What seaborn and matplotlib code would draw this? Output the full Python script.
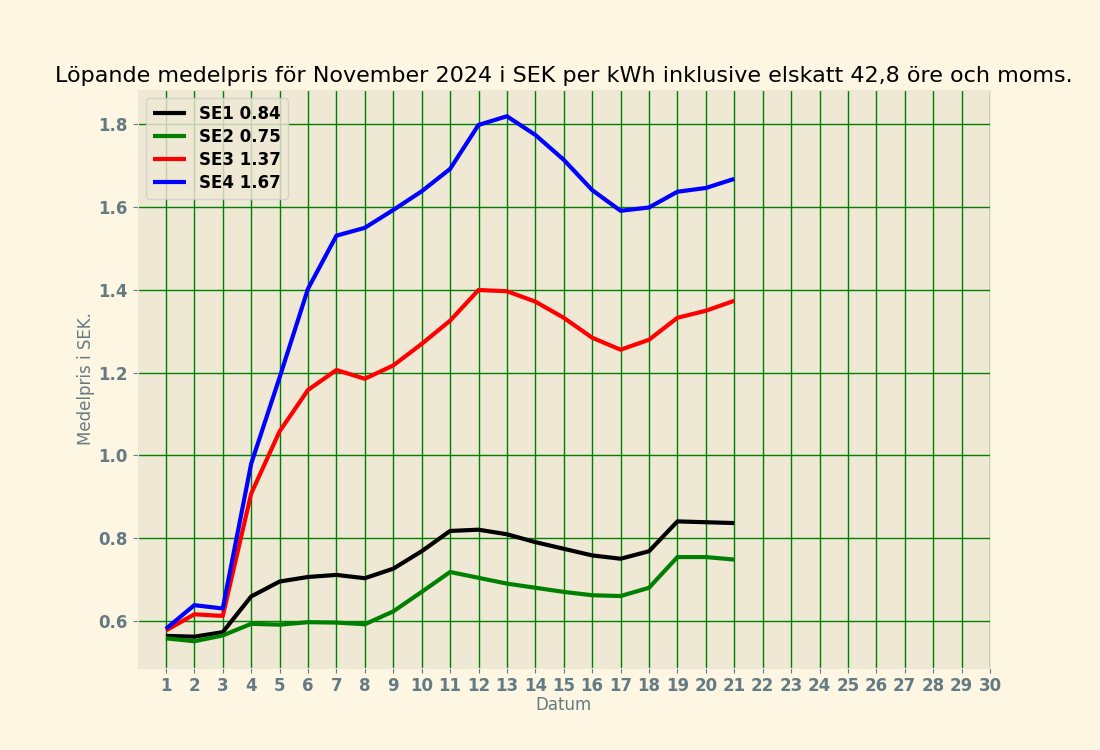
import matplotlib
matplotlib.use("Agg")
import matplotlib.pyplot as plt
import seaborn as sns
import pandas as pd

days = list(range(1, 22))
se1 = [0.565, 0.563, 0.574, 0.660, 0.696, 0.707, 0.712, 0.704, 0.727, 0.769, 0.818,
       0.821, 0.810, 0.791, 0.775, 0.759, 0.751, 0.769, 0.841, 0.839, 0.837]
se2 = [0.559, 0.552, 0.566, 0.594, 0.592, 0.598, 0.597, 0.593, 0.624, 0.671, 0.719,
       0.705, 0.691, 0.681, 0.671, 0.663, 0.661, 0.681, 0.755, 0.755, 0.749]
se3 = [0.578, 0.617, 0.613, 0.908, 1.058, 1.158, 1.206, 1.185, 1.217, 1.269, 1.325,
       1.399, 1.396, 1.371, 1.332, 1.284, 1.255, 1.279, 1.332, 1.349, 1.373]
se4 = [0.582, 0.639, 0.631, 0.980, 1.188, 1.402, 1.530, 1.549, 1.592, 1.637, 1.691,
       1.797, 1.818, 1.773, 1.713, 1.640, 1.590, 1.598, 1.636, 1.645, 1.667]
labels = ["SE1 0.84", "SE2 0.75", "SE3 1.37", "SE4 1.67"]
colors = ["black", "green", "red", "blue"]
xticks = list(range(1, 31))

plt.style.use("Solarize_Light2")
df = pd.concat([
    pd.DataFrame({"Datum": days, "Pris": vals, "Area": lab})
    for vals, lab in zip([se1, se2, se3, se4], labels)
])

fig, ax = plt.subplots(figsize=(11, 7.5), dpi=100)
sns.lineplot(data=df, x="Datum", y="Pris", hue="Area", palette=colors,
             linewidth=3, ax=ax)
ax.set_xlim(0, 30)
ax.set_xticks(xticks)
ax.grid(True, color="green", linewidth=1)
ax.set_axisbelow(True)
for lab in ax.get_xticklabels() + ax.get_yticklabels():
    lab.set_fontweight("bold")
    lab.set_fontsize(12)
ax.set_xlabel("Datum", fontsize=12, labelpad=0.5)
ax.set_ylabel("Medelpris i SEK.", fontsize=12, labelpad=2.5)
ax.set_title("Löpande medelpris för November 2024 i SEK per kWh inklusive elskatt 42,8 öre och moms.",
             fontsize=16, color="black")
leg = ax.legend(loc="upper left", prop={"weight": "bold", "size": 12},
                labelspacing=0.3)
leg.set_title(None)
fig.savefig("out.png", dpi=100)
